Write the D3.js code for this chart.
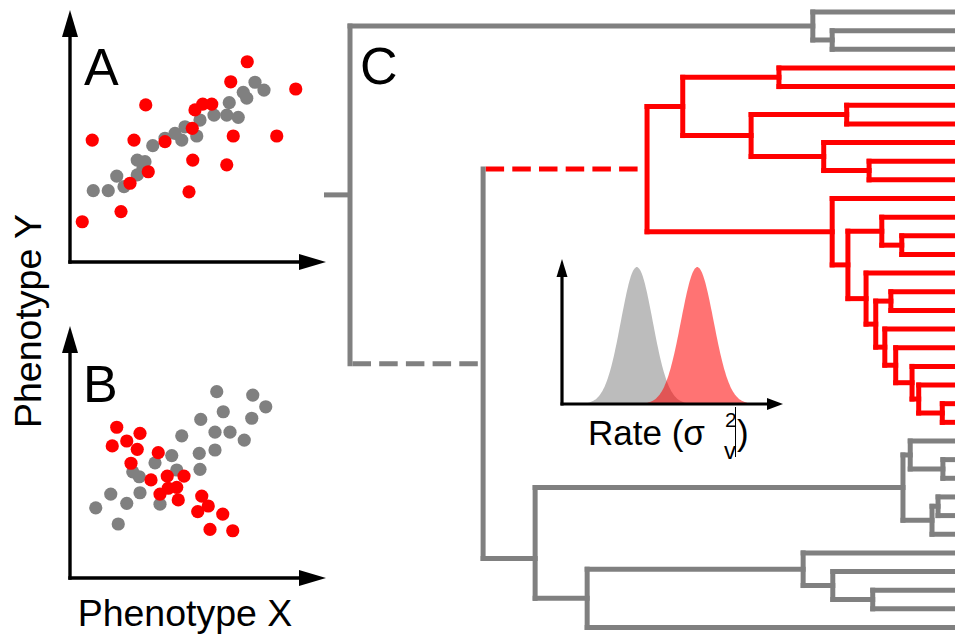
<!DOCTYPE html>
<html><head><meta charset="utf-8">
<script src="https://cdn.jsdelivr.net/npm/d3@7"></script>
<style>
html,body{margin:0;padding:0;background:#fff;overflow:hidden}
svg{display:block}
text{font-family:"Liberation Sans",Arial,Helvetica,sans-serif;fill:#000}
</style>
</head><body>
<svg id="fig" width="955" height="637"></svg>
<script>
// ---------- Panel A: correlated traits, background (gray) vs shifted (red) species ----------
const aGrayX = [0.93,1.53,1.87,2.16,2.69,2.69,3.0,2.92,3.31,3.8,4.2,4.47,4.6,5.07,5.2,5.76,6.27,6.37,6.73,6.93,7.07,7.4,7.76];
const aGrayY = [3.17,3.17,3.82,3.35,3.87,4.53,4.46,4.18,5.17,5.5,5.72,5.42,6.01,5.6,6.31,6.53,6.53,7.08,6.43,7.54,7.28,7.99,7.64];
const aRedX  = [0.49,0.89,2.04,2.4,2.56,3.03,3.13,3.8,4.76,4.91,4.89,5.0,5.31,5.67,6.27,6.53,6.43,7.09,8.27,9.03];
const aRedY  = [1.79,5.42,2.24,3.5,5.42,6.98,4.01,5.35,3.12,4.53,5.94,6.76,7.02,7.02,4.32,5.6,8.01,8.9,5.6,7.69];

// ---------- Panel B: reversed correlation in the shifted group ----------
const bGrayX = [1.03,1.63,1.93,2.27,2.8,2.51,2.77,3.4,3.6,4.07,4.27,4.47,5.17,5.2,5.23,5.8,5.8,5.87,6.13,6.4,6.97,7.27,7.31,7.83];
const bGrayY = [3.12,3.73,2.4,3.32,3.79,4.72,4.5,5.12,3.28,5.44,4.8,6.32,5.54,4.83,7.05,5.69,6.48,8.28,7.39,6.48,6.13,7.1,8.13,7.61];
const bRedX  = [1.87,1.69,2.27,2.8,2.69,2.44,3.53,3.24,3.89,4.56,4.27,3.93,3.6,4.33,5.27,5.53,5.11,6.11,5.6,6.51];
const bRedY  = [6.7,5.87,6.09,6.43,5.72,5.1,5.57,4.36,4.53,4.53,4.03,3.99,3.73,3.47,3.64,3.2,2.95,2.84,2.16,2.1];

// ---------- Panel C: phylogeny (id, parent, node depth; tips at depth 100) ----------
const treeNodes = [
  ["root", null, 0],
  ["T", "root", 76.5], ["t0", "T", 100],
  ["T2", "T", 79.7], ["t1", "T2", 100], ["t2", "T2", 100],
  ["G", "root", 22],
  ["Rc", "G", 49.1],
  ["A1", "Rc", 55],
  ["A2", "A1", 70.9], ["t3", "A2", 100], ["t4", "A2", 100],
  ["A3", "A1", 66.3],
  ["A4", "A3", 82.1], ["t5", "A4", 100], ["t6", "A4", 100],
  ["A5", "A3", 78.3], ["t7", "A5", 100],
  ["A6", "A5", 85.8], ["t8", "A6", 100], ["t9", "A6", 100],
  ["B1", "Rc", 79.7], ["t10", "B1", 100],
  ["B2", "B1", 82.3],
  ["B3", "B2", 87.9], ["t11", "B3", 100],
  ["B5", "B3", 91.2], ["t12", "B5", 100], ["t13", "B5", 100],
  ["B4", "B2", 85.3], ["t14", "B4", 100],
  ["B6", "B4", 86.9],
  ["B7", "B6", 89.4], ["t15", "B7", 100], ["t16", "B7", 100],
  ["B8", "B6", 88.4], ["t17", "B8", 100],
  ["B9", "B8", 90.2], ["t18", "B9", 100],
  ["B10", "B9", 92.9], ["t19", "B10", 100],
  ["B11", "B10", 94.0], ["t20", "B11", 100],
  ["B12", "B11", 97.9], ["t21", "B12", 100], ["t22", "B12", 100],
  ["H", "G", 30.6],
  ["I", "H", 91.4],
  ["P", "I", 92.6], ["t23", "P", 100],
  ["R", "P", 98.0], ["t24", "R", 100], ["t25", "R", 100],
  ["Q", "I", 96.2],
  ["S", "Q", 97.2], ["t26", "S", 100], ["t27", "S", 100], ["t28", "Q", 100],
  ["J", "H", 39.2],
  ["K", "J", 74.9], ["t29", "K", 100],
  ["L", "K", 79.8], ["t30", "L", 100],
  ["M", "L", 86.4], ["t31", "M", 100], ["t32", "M", 100],
  ["t33", "J", 100]
];
const nodeRowOverride = { H: 29.3 };   // node placed off its children's midpoint
const shiftedClade = "Rc";
const dashedBranches = ["G", "Rc"];
const rootStemDepth = -4.3;

// ---------- Inset: rate distributions ----------
const rateGroups = ["background", "shifted"];
const rateMeans = [3.4, 6.15];
const rateSDs = [0.72, 0.74];

const GRAY = "#808080", RED = "#ff0000";
const svg = d3.select("#fig");

// arrow helper: line from (x1,y1) to tip (x2,y2), filled triangular head
function arrow(g, x1, y1, x2, y2, headLen, headHalf, width) {
  const dx = x2 - x1, dy = y2 - y1, L = Math.hypot(dx, dy);
  const ux = dx / L, uy = dy / L, px = -uy, py = ux;
  const bx = x2 - ux * headLen, by = y2 - uy * headLen;
  g.append("line").attr("x1", x1).attr("y1", y1)
    .attr("x2", bx + ux * 2).attr("y2", by + uy * 2)
    .attr("stroke", "#000").attr("stroke-width", width);
  g.append("path")
    .attr("d", `M${x2},${y2}L${bx + px * headHalf},${by + py * headHalf}L${bx - px * headHalf},${by - py * headHalf}Z`)
    .attr("fill", "#000");
}

// ---------- scatter panels ----------
function scatterPanel(label, top, bottom, grayX, grayY, redX, redY) {
  const g = svg.append("g");
  const x = d3.scaleLinear().domain([0, 10]).range([70, 320]);
  const y = d3.scaleLinear().domain([0, 10]).range([bottom, top]);
  const gray = grayX.map((v, i) => [v, grayY[i]]);
  const red = redX.map((v, i) => [v, redY[i]]);
  g.selectAll("circle.g").data(gray).join("circle").attr("class", "g")
    .attr("cx", d => x(d[0])).attr("cy", d => y(d[1])).attr("r", 6.6).attr("fill", GRAY);
  g.selectAll("circle.r").data(red).join("circle").attr("class", "r")
    .attr("cx", d => x(d[0])).attr("cy", d => y(d[1])).attr("r", 6.6).attr("fill", RED);
  arrow(g, 70, bottom + 1.7, 70, top - 27, 27, 8, 3.4);
  arrow(g, 68.3, bottom, 326, bottom, 27, 8, 3.4);
  return g;
}
const gA = scatterPanel("A", 37, 262, aGrayX, aGrayY, aRedX, aRedY);
gA.append("text").attr("x", 84).attr("y", 85).attr("font-size", 52).text("A");
const gB = scatterPanel("B", 353, 578, bGrayX, bGrayY, bRedX, bRedY);
gB.append("text").attr("x", 83).attr("y", 402).attr("font-size", 52).text("B");

svg.append("text").attr("x", 185).attr("y", 626).attr("font-size", 37.5)
  .attr("text-anchor", "middle").text("Phenotype X");
svg.append("text").attr("transform", "translate(41,321) rotate(-90)")
  .attr("font-size", 37.5).attr("text-anchor", "middle").text("Phenotype Y");

// ---------- tree ----------
const xT = d3.scaleLinear().domain([0, 100]).range([350, 955]);
const yT = d3.scaleLinear().domain([0, 33]).range([12, 627.5]);
const root = d3.stratify().id(d => d[0]).parentId(d => d[1])(treeNodes);
root.leaves().forEach((l, i) => { l.row = i; });
root.eachAfter(n => {
  if (n.children) {
    const o = nodeRowOverride[n.id];
    n.row = o !== undefined ? o : (n.children[0].row + n.children[n.children.length - 1].row) / 2;
  }
});
root.eachBefore(n => { n.shift = n.id === shiftedClade || (n.parent ? n.parent.shift : false); });

const LW = 5, HW = LW / 2;
const tree = svg.append("g");
const colorOf = n => n.shift ? RED : GRAY;

// root stem
tree.append("line").attr("x1", xT(rootStemDepth)).attr("x2", xT(0))
  .attr("y1", yT(root.row)).attr("y2", yT(root.row))
  .attr("stroke", GRAY).attr("stroke-width", LW);

// branches leading to each node
const branches = root.descendants().filter(n => n.parent);
tree.selectAll("line.br").data(branches.filter(n => !dashedBranches.includes(n.id))).join("line")
  .attr("class", "br")
  .attr("x1", n => xT(n.parent.data[2])).attr("x2", n => xT(n.data[2]))
  .attr("y1", n => yT(n.row)).attr("y2", n => yT(n.row))
  .attr("stroke", colorOf).attr("stroke-width", LW).attr("stroke-linecap", "square");
tree.selectAll("line.dash").data(branches.filter(n => dashedBranches.includes(n.id))).join("line")
  .attr("class", "dash")
  .attr("x1", n => xT(n.parent.data[2]) + HW).attr("x2", n => xT(n.data[2]) - HW)
  .attr("y1", n => yT(n.row)).attr("y2", n => yT(n.row))
  .attr("stroke", colorOf).attr("stroke-width", LW)
  .attr("stroke-dasharray", "18.5,8.2").attr("stroke-linecap", "butt");

// vertical connectors at internal nodes
const internals = root.descendants().filter(n => n.children);
tree.selectAll("line.v").data(internals).join("line").attr("class", "v")
  .attr("x1", n => xT(n.data[2])).attr("x2", n => xT(n.data[2]))
  .attr("y1", n => yT(n.children[0].row)).attr("y2", n => yT(n.children[n.children.length - 1].row))
  .attr("stroke", colorOf).attr("stroke-width", LW).attr("stroke-linecap", "square");

svg.append("text").attr("x", 360).attr("y", 84).attr("font-size", 52).text("C");

// ---------- inset: rate densities ----------
const inset = svg.append("g");
const xR = d3.scaleLinear().domain([0, 10]).range([562, 782]);
const yR = d3.scaleLinear().domain([0, 1]).range([404, 267]);
const area = d3.area().x(d => xR(d[0])).y0(yR(0)).y1(d => yR(d[1])).curve(d3.curveBasis);
const fills = { background: "#bcbcbc", shifted: "rgba(255,0,0,0.55)" };
rateGroups.forEach((grp, i) => {
  const m = rateMeans[i], s = rateSDs[i];
  const pts = d3.range(0, 9.3, 0.05).map(v => [v, Math.exp(-0.5 * ((v - m) / s) ** 2)]);
  inset.append("path").attr("d", area(pts)).attr("fill", fills[grp]);
});
arrow(inset, 562, 405.5, 562, 259, 18, 5.5, 3.2);
arrow(inset, 560.5, 404, 783, 404, 16, 6, 3.2);
inset.append("text").attr("x", 588).attr("y", 445).attr("font-size", 35).text("Rate (σ");
inset.append("text").attr("x", 725).attr("y", 427).attr("font-size", 21).text("2");
inset.append("text").attr("x", 724).attr("y", 459).attr("font-size", 24).text("v");
inset.append("text").attr("x", 737).attr("y", 445).attr("font-size", 35).text(")");
inset.append("line").attr("x1", 735.5).attr("x2", 735.5).attr("y1", 407).attr("y2", 457)
  .attr("stroke", "#000").attr("stroke-width", 1);
</script>
</body></html>
